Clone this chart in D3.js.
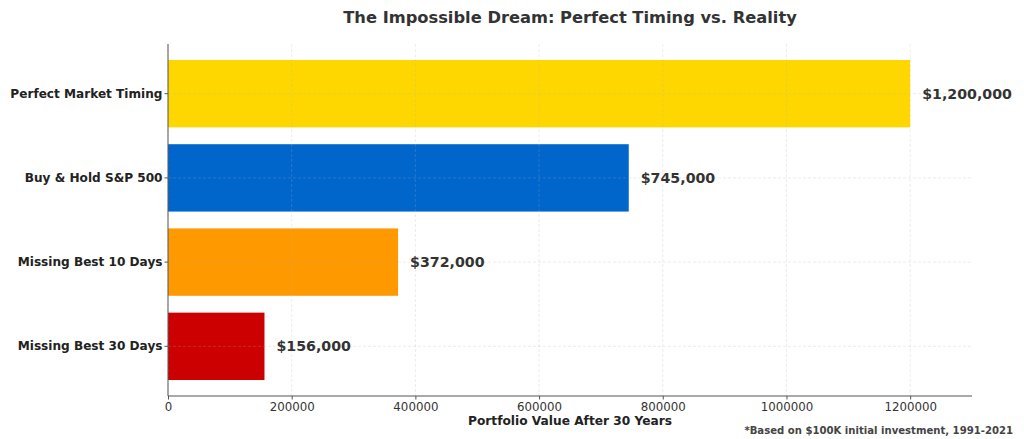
<!DOCTYPE html>
<html>
<head>
<meta charset="utf-8">
<script src="https://cdn.jsdelivr.net/npm/d3@7"></script>
<style>
  body { margin: 0; background: #fff; }
  svg { display: block; font-family: "DejaVu Sans", sans-serif; }
</style>
</head>
<body>
<div id="chart"></div>
<script>
// data
const strategies = ["Perfect Market Timing", "Buy & Hold S&P 500", "Missing Best 10 Days", "Missing Best 30 Days"];
const values = [1200000, 745000, 372000, 156000];
const barColors = ["#FFD700", "#0066CC", "#FF9900", "#CC0000"];
const xTicks = [0, 200000, 400000, 600000, 800000, 1000000, 1200000];

const width = 1024, height = 439;
const margin = { top: 44, right: 52, bottom: 43, left: 168 };

const svg = d3.select("#chart").append("svg")
    .attr("width", width)
    .attr("height", height);

const x = d3.scaleLinear()
    .domain([0, 1300000])
    .range([margin.left, width - margin.right]);

const y = d3.scaleBand()
    .domain(strategies)
    .range([margin.top, height - margin.bottom])
    .paddingInner(0.2)
    .paddingOuter(0.19);

// bars
svg.append("g")
    .selectAll("rect")
    .data(strategies)
    .join("rect")
    .attr("x", x(0))
    .attr("y", d => y(d))
    .attr("width", (d, i) => x(values[i]) - x(0))
    .attr("height", y.bandwidth())
    .attr("fill", (d, i) => barColors[i]);

// grid (drawn over bars like the original)
const grid = svg.append("g")
    .attr("stroke", "#b0b0b0")
    .attr("stroke-opacity", 0.3)
    .attr("stroke-width", 0.8)
    .attr("stroke-dasharray", "3,2");

grid.selectAll("line.v")
    .data(xTicks)
    .join("line")
    .attr("class", "v")
    .attr("x1", d => x(d)).attr("x2", d => x(d))
    .attr("y1", margin.top).attr("y2", height - margin.bottom);

grid.selectAll("line.h")
    .data(strategies)
    .join("line")
    .attr("class", "h")
    .attr("x1", margin.left).attr("x2", width - margin.right)
    .attr("y1", d => y(d) + y.bandwidth() / 2)
    .attr("y2", d => y(d) + y.bandwidth() / 2);

// value labels
svg.append("g")
    .selectAll("text")
    .data(strategies)
    .join("text")
    .attr("x", (d, i) => x(values[i]) + 12)
    .attr("y", d => y(d) + y.bandwidth() / 2)
    .attr("dy", "0.35em")
    .attr("fill", "#333")
    .style("font-size", "14.2px")
    .style("font-weight", "bold")
    .text((d, i) => "$" + d3.format(",")(values[i]));

// axes
const xAxis = svg.append("g")
    .attr("transform", `translate(0,${height - margin.bottom})`)
    .call(d3.axisBottom(x).tickValues(xTicks).tickFormat(d3.format("d")).tickSize(3.5).tickPadding(3))
    .call(g => g.select(".domain").attr("stroke", "#555").attr("d", `M${margin.left},0H${width - margin.right}`));
xAxis.selectAll(".tick line").attr("stroke", "#555");
xAxis.selectAll("text").attr("fill", "#333").style("font-size", "11.8px").style("font-family", "DejaVu Sans");

const yAxis = svg.append("g")
    .attr("transform", `translate(${margin.left},0)`)
    .call(d3.axisLeft(y).tickSize(3.5).tickPadding(2))
    .call(g => g.select(".domain").attr("stroke", "#555").attr("d", `M0,${margin.top}V${height - margin.bottom}`));
yAxis.selectAll(".tick line").attr("stroke", "#555");
yAxis.selectAll("text").attr("fill", "#222").style("font-size", "12.1px").style("font-weight", "bold").style("font-family", "DejaVu Sans");

// title
svg.append("text")
    .attr("x", (margin.left + width - margin.right) / 2)
    .attr("y", 23)
    .attr("text-anchor", "middle")
    .attr("fill", "#333")
    .style("font-size", "16.3px")
    .style("font-weight", "bold")
    .text("The Impossible Dream: Perfect Timing vs. Reality");

// x label
svg.append("text")
    .attr("x", (margin.left + width - margin.right) / 2)
    .attr("y", 425)
    .attr("text-anchor", "middle")
    .attr("fill", "#222")
    .style("font-size", "12.2px")
    .style("font-weight", "bold")
    .text("Portfolio Value After 30 Years");

// footnote
svg.append("text")
    .attr("x", 1013)
    .attr("y", 434)
    .attr("text-anchor", "end")
    .attr("fill", "#444")
    .style("font-size", "10.1px")
    .style("font-weight", "bold")
    .text("*Based on $100K initial investment, 1991-2021");
</script>
</body>
</html>
